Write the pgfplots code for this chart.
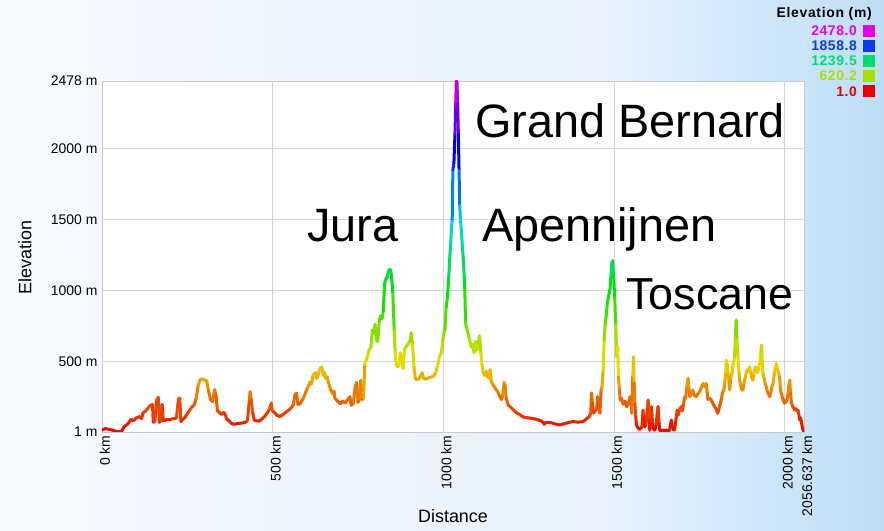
\documentclass[border=0pt]{standalone}
\usepackage{pgfplots}
\pgfplotsset{compat=1.18}
\usepackage{fontspec}
\setmainfont{Liberation Sans}
\definecolor{bgA}{RGB}{248,250,254}
\definecolor{bgB}{RGB}{232,242,252}
\definecolor{bgC}{RGB}{190,222,247}
\definecolor{gridc}{RGB}{212,212,212}
\definecolor{axc}{RGB}{200,200,200}
\definecolor{lgM}{RGB}{230,0,230}
\definecolor{lgB}{RGB}{10,60,235}
\definecolor{lgG}{RGB}{0,220,110}
\definecolor{lgY}{RGB}{175,220,0}
\definecolor{lgR}{RGB}{230,0,0}
\pgfplotstableread{
km m
0 15
10 25
20 20
30 15
40 5
50 1
58 8
65 40
75 55
85 90
92 80
100 100
110 110
116 95
120 135
128 150
135 170
142 190
148 195
150 70
155 75
160 230
165 245
168 70
172 80
176 195
180 80
186 85
192 90
200 90
210 95
218 100
224 235
228 240
231 75
236 90
242 100
250 130
258 160
264 180
270 190
276 240
282 330
287 370
293 375
300 370
307 360
312 290
318 230
324 215
330 300
334 260
338 150
344 140
350 125
356 140
360 130
366 90
372 80
380 60
388 55
396 60
404 62
412 65
420 70
426 80
432 230
434 285
437 230
442 130
446 85
452 80
460 78
468 90
476 110
484 135
490 160
496 205
499 150
505 140
512 120
520 110
528 120
536 135
544 150
552 165
560 190
566 270
570 275
574 195
580 200
590 240
600 300
606 330
610 355
614 340
618 400
625 420
628 380
632 390
636 430
640 455
644 460
648 400
652 420
655 380
660 390
662 360
666 330
670 300
676 270
680 290
682 240
690 220
698 200
705 220
712 205
720 230
726 250
730 190
736 200
742 330
746 350
750 210
754 230
758 365
762 230
766 240
770 480
776 520
782 580
788 600
792 720
796 700
800 760
804 650
808 640
812 780
816 820
820 800
824 850
828 1050
832 1080
836 1100
840 1140
844 1150
848 1110
852 980
856 720
859 560
862 480
866 460
870 470
874 560
878 520
882 450
886 580
890 600
896 620
902 640
906 700
910 620
914 460
918 380
922 370
928 375
934 400
938 420
942 380
948 375
954 380
960 385
966 390
972 395
978 420
982 460
986 500
990 540
994 560
998 640
1002 700
1005 730
1008 880
1012 950
1016 1100
1019 1240
1022 1350
1024 1450
1026 1500
1028 1850
1031 1900
1034 2100
1036 2300
1038 2478
1040 2470
1042 2320
1044 2100
1046 1850
1048 1600
1050 1500
1053 1420
1056 1300
1058 1240
1061 1100
1063 1000
1065 780
1067 740
1070 720
1074 680
1078 640
1082 600
1086 620
1090 560
1094 640
1098 580
1102 620
1106 680
1110 560
1113 480
1117 420
1121 400
1126 430
1130 390
1134 380
1137 440
1140 360
1146 330
1150 320
1154 300
1158 290
1162 270
1166 250
1170 230
1174 260
1178 350
1181 330
1184 240
1190 190
1196 180
1204 160
1212 140
1220 130
1228 115
1236 105
1250 100
1265 95
1280 85
1290 75
1296 55
1300 70
1310 70
1325 60
1340 50
1355 60
1370 70
1380 75
1395 70
1410 75
1420 95
1428 110
1432 140
1434 275
1437 200
1440 134
1444 150
1449 160
1452 250
1455 200
1459 134
1462 296
1465 320
1468 437
1471 650
1474 760
1477 820
1480 900
1484 960
1488 1000
1491 1100
1494 1200
1496 1210
1499 1100
1502 950
1505 760
1508 531
1511 600
1513 390
1516 300
1518 226
1522 240
1527 197
1532 220
1537 180
1542 200
1547 250
1550 200
1552 134
1555 400
1557 531
1559 350
1561 200
1564 100
1566 50
1570 30
1574 20
1578 25
1582 40
1585 155
1587 100
1590 37
1594 60
1598 180
1600 226
1603 80
1605 14
1608 100
1610 180
1613 60
1616 20
1620 14
1624 60
1627 150
1629 180
1632 60
1634 14
1640 14
1648 12
1656 14
1663 14
1666 60
1668 85
1671 40
1675 14
1678 20
1682 100
1685 155
1688 120
1692 160
1697 180
1700 150
1704 200
1707 250
1710 240
1714 330
1717 380
1720 300
1722 250
1726 270
1731 296
1735 260
1741 250
1745 270
1751 285
1755 310
1758 330
1761 343
1765 320
1770 343
1773 280
1775 230
1780 240
1785 226
1790 200
1795 180
1800 160
1804 134
1808 170
1814 226
1818 280
1822 300
1824 343
1827 420
1829 508
1832 470
1834 414
1837 350
1839 300
1842 380
1846 420
1848 461
1851 500
1853 531
1856 700
1858 790
1860 650
1863 531
1866 420
1868 367
1872 320
1875 300
1878 296
1881 350
1884 380
1887 414
1890 440
1894 430
1897 461
1900 420
1904 380
1907 367
1910 420
1914 461
1917 440
1921 420
1924 460
1927 484
1930 560
1932 614
1934 520
1936 414
1940 380
1943 340
1946 320
1950 280
1953 270
1956 250
1960 290
1963 320
1966 343
1970 420
1973 460
1976 484
1979 440
1982 420
1985 390
1988 300
1990 273
1994 240
1997 220
2000 204
2004 215
2008 240
2010 273
2012 330
2015 367
2017 280
2020 204
2024 180
2027 170
2029 155
2033 165
2036 150
2039 155
2042 120
2044 85
2047 100
2050 60
2052 30
2054 14
2056.6 5
}\elev
\begin{document}
\begin{tikzpicture}[x=1bp,y=1bp]
\useasboundingbox (0,0) rectangle (884,531);
\shade[left color=bgA, right color=bgB] (0,0) rectangle (600,531);
\shade[left color=bgB, right color=bgC] (599.5,0) rectangle (884,531);
\begin{axis}[
  at={(102bp,99bp)}, anchor=south west,
  scale only axis, width=702bp, height=351bp,
  xmin=0, xmax=2056.637, ymin=1, ymax=2478,
  axis background/.style={fill=white},
  axis line style={draw=axc, line width=0.8bp},
  grid=major,
  major grid style={draw=gridc, line width=0.9bp},
  major tick length=0pt,
  xtick={0,500,1000,1500,2000,2056.637},
  xticklabels={0 km,500 km,1000 km,1500 km,2000 km,2056.637 km},
  ytick={1,500,1000,1500,2000,2478},
  yticklabels={1 m,500 m,1000 m,1500 m,2000 m,2478 m},
  xticklabel style={rotate=90, anchor=east, font=\fontsize{14}{14}\selectfont, yshift=-3bp},
  yticklabel style={font=\fontsize{14}{14}\selectfont, xshift=-1bp},
  colormap={elev}{rgb255=(235,0,0) rgb255=(235,222,0) rgb255=(0,225,0) rgb255=(0,218,235) rgb255=(0,0,235) rgb255=(228,0,228)},
  point meta min=1, point meta max=2478,
]
\addplot[mesh, point meta=\thisrow{m}, line width=3bp, line join=round, line cap=round] table[x=km, y=m] {\elev};
\end{axis}
% axis titles
\node[rotate=90, font=\fontsize{18}{18}\selectfont] at (25,273.5) {Elevation};
\node[font=\fontsize{18}{18}\selectfont] at (453,15) {Distance};
% annotations
\node[anchor=base west, inner sep=0pt, font=\fontsize{47}{47}\selectfont] at (475,393.3) {Grand Bernard};
\node[anchor=base west, inner sep=0pt, font=\fontsize{47}{47}\selectfont] at (307,289.3) {Jura};
\node[anchor=base west, inner sep=0pt, font=\fontsize{47}{47}\selectfont] at (482,289.3) {Apennijnen};
\node[anchor=base west, inner sep=0pt, font=\fontsize{45}{45}\selectfont] at (626,221) {Toscane};
% colour legend
\node[anchor=east, inner sep=0pt, font=\fontsize{14}{14}\selectfont\bfseries\addfontfeature{LetterSpace=5}] at (872,517) {Elevation (m)};
\foreach \yy/\cc/\tt in {500/lgM/2478.0, 485/lgB/1858.8, 470/lgG/1239.5, 455/lgY/620.2, 439.5/lgR/1.0}{
  \node[anchor=east, inner sep=0pt, text=\cc, font=\fontsize{14}{14}\selectfont\bfseries\addfontfeature{LetterSpace=4}] at (857,\yy) {\tt};
  \fill[\cc] (863,\yy-6) rectangle (875,\yy+6);
}
\end{tikzpicture}
\end{document}
